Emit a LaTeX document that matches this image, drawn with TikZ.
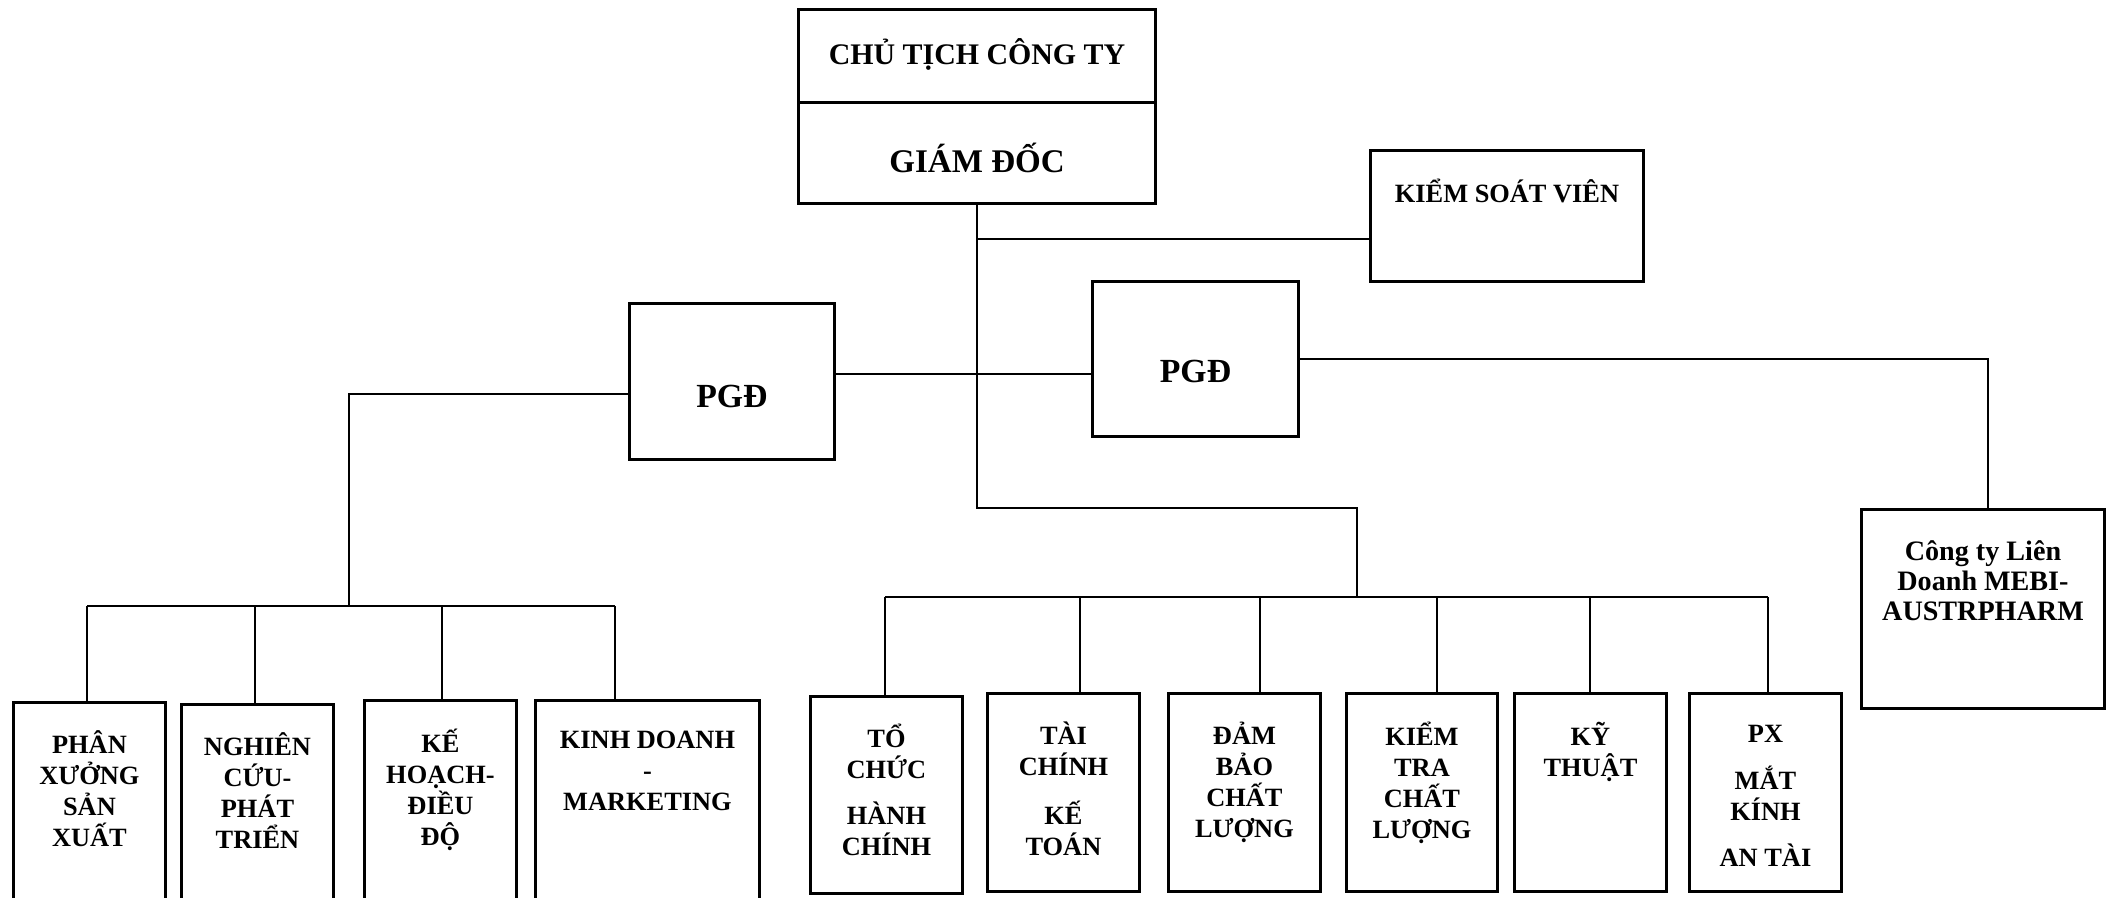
\documentclass[tikz,border=0pt]{standalone}
\usepackage{fontspec}
\setmainfont{Liberation Serif}
\usetikzlibrary{positioning}

\begin{document}
\begin{tikzpicture}[x=0.01cm, y=-0.01cm, line width=0.6pt,
    box/.style={draw, line width=0.8pt, anchor=north west, inner sep=0pt},
    txt/.style={align=center, inner sep=0pt, font=\bfseries\fontsize{7.5}{8.8}\selectfont, execute at begin node=\strut}]
  \useasboundingbox (0,0) rectangle (2107,897);
  \clip (0,0) rectangle (2107,897);
  % top
  \node[box, minimum width=3.57cm, minimum height=0.93cm] (CT) at (797,8) {};
  \node[box, minimum width=3.57cm, minimum height=1.01cm] (GD) at (797,101) {};
  \node[box, minimum width=2.73cm, minimum height=1.31cm] (KSV) at (1369,149) {};
  \node[txt, font=\bfseries\fontsize{8.5}{10.2}\selectfont, below=0.29cm of CT.north] (CTt) {CHỦ TỊCH CÔNG TY};
  \node[txt, font=\bfseries\fontsize{9.4}{11.3}\selectfont, below=0.41cm of GD.north] (GDt) {GIÁM ĐỐC};
  \node[txt, below=0.29cm of KSV.north] (KSVt) {KIỂM SOÁT VIÊN};
  % PGD
  \node[box, minimum width=2.05cm, minimum height=1.56cm] (PL) at (628,302) {};
  \node[box, minimum width=2.06cm, minimum height=1.55cm] (PR) at (1091,280) {};
  \node[txt, font=\bfseries\fontsize{9.6}{11.5}\selectfont, below=0.76cm of PL.north] (PLt) {PGĐ};
  \node[txt, font=\bfseries\fontsize{9.6}{11.5}\selectfont, below=0.73cm of PR.north] (PRt) {PGĐ};
  \node[box, minimum width=2.43cm, minimum height=1.99cm] (ME) at (1860,508) {};
  \node[txt, font=\bfseries\fontsize{8}{8.4}\selectfont, below=0.32cm of ME.north] (MEt) {Công ty Liên\\Doanh MEBI-\\AUSTRPHARM};
  % left group
  \node[box, minimum width=1.52cm, minimum height=2.1cm] (PX) at (12,701) {};
  \node[box, minimum width=1.52cm, minimum height=2.1cm] (NC) at (180,703) {};
  \node[box, minimum width=1.52cm, minimum height=2.1cm] (KH) at (363,699) {};
  \node[box, minimum width=2.24cm, minimum height=2.1cm] (KD) at (534,699) {};
  \node[txt, below=0.29cm of PX.north] (PXt) {PHÂN\\XƯỞNG\\SẢN\\XUẤT};
  \node[txt, below=0.29cm of NC.north] (NCt) {NGHIÊN\\CỨU-\\PHÁT\\TRIỂN};
  \node[txt, below=0.29cm of KH.north] (KHt) {KẾ\\HOẠCH-\\ĐIỀU\\ĐỘ};
  \node[txt, below=0.31cm of KD.north] (KDt) {KINH DOANH\\-\\MARKETING};
  % center group
  \node[box, minimum width=1.52cm, minimum height=1.97cm] (TC) at (809,695) {};
  \node[box, minimum width=1.52cm, minimum height=1.98cm] (TK) at (986,692) {};
  \node[box, minimum width=1.52cm, minimum height=1.98cm] (DB) at (1167,692) {};
  \node[box, minimum width=1.51cm, minimum height=1.98cm] (KT) at (1345,692) {};
  \node[box, minimum width=1.52cm, minimum height=1.98cm] (KY) at (1513,692) {};
  \node[box, minimum width=1.52cm, minimum height=1.98cm] (PM) at (1688,692) {};
  \node[txt, below=0.28cm of TC.north] (TCt) {TỔ\\CHỨC\\[4.3pt]HÀNH\\CHÍNH};
  \node[txt, below=0.29cm of TK.north] (TKt) {TÀI\\CHÍNH\\[5pt]KẾ\\TOÁN};
  \node[txt, below=0.29cm of DB.north] (DBt) {ĐẢM\\BẢO\\CHẤT\\LƯỢNG};
  \node[txt, below=0.29cm of KT.north] (KTt) {KIỂM\\TRA\\CHẤT\\LƯỢNG};
  \node[txt, below=0.29cm of KY.north] (KYt) {KỸ\\THUẬT};
  \node[txt, below=0.32cm of PM.north] (PMt) {PX\\[4.5pt]MẮT\\KÍNH\\[4.5pt]AN TÀI};
  % lines
  \coordinate (ks) at (GD.south |- 0,239);
  \coordinate (mid) at (GD.south |- 0,374);
  \coordinate (busC) at (1357,597);
  \coordinate (busL) at (349,606);
  \draw (GD.south) -- (GD.south |- 0,508) -| (busC);
  \draw (ks) -- (ks -| KSV.west);
  \draw (PL.east |- mid) -- (PR.west |- mid);
  \draw (PR.east) -| (ME.north -| 1988,0);
  \draw (PL.west |- 0,394) -| (busL);
  \draw (885,597) -- (1768,597);
  \draw (87,606) -- (615,606);
  \foreach \x/\b in {885/TC, 1080/TK, 1260/DB, 1437/KT, 1590/KY, 1768/PM}
    \draw (\x,597) -- (\b.north -| \x,0);
  \foreach \x/\b in {87/PX, 255/NC, 442/KH, 615/KD}
    \draw (\x,606) -- (\b.north -| \x,0);
\end{tikzpicture}
\end{document}
